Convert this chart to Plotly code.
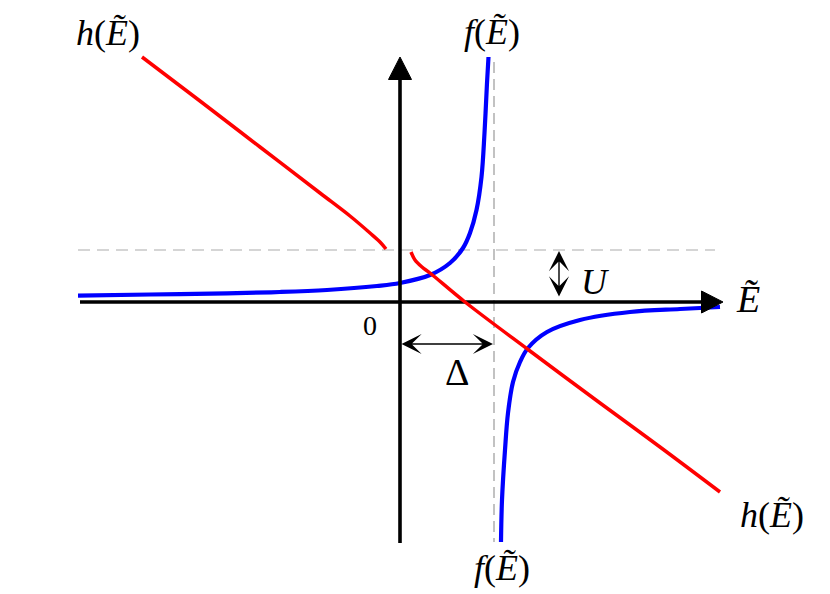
import plotly.graph_objects as go

# ── data (E-tilde units, origin at the axes crossing) ─────────────────────────
U = 0.52        # height of the dashed horizontal level
DELTA = 0.94    # position of the f(E) pole

# f(E): left branch (below the pole) and right branch
f_left_E = [-3.22, -2.5, -1.73, -1.2, -0.73, -0.23, 0.0, 0.30, 0.50, 0.63,
            0.70, 0.765, 0.815, 0.845, 0.87, 0.885]
f_left = [0.063, 0.075, 0.087, 0.10, 0.12, 0.16, 0.19, 0.27, 0.39, 0.54,
          0.69, 0.92, 1.25, 1.69, 2.19, 2.45]
f_right_E = [1.01, 1.02, 1.05, 1.08, 1.13, 1.20, 1.28, 1.47, 1.80, 2.30, 2.80, 3.20]
f_right = [-2.40, -1.98, -1.48, -1.11, -0.80, -0.60, -0.46, -0.30, -0.18, -0.10, -0.07, -0.05]

# h(E): two nearly straight pieces with a small gap around zero
h_left_E = [-2.58, -2.00, -1.40, -0.80, -0.50, -0.30, -0.20, -0.14]
h_left = [2.45, 2.01, 1.55, 1.09, 0.86, 0.69, 0.60, 0.53]
h_right_E = [0.11, 0.15, 0.22, 0.30, 0.65, 1.30, 2.00, 2.60, 3.20]
h_right = [0.50, 0.42, 0.35, 0.29, 0.00, -0.49, -1.01, -1.45, -1.90]

# ── plot ──────────────────────────────────────────────────────────────────────
fig = go.Figure()

def line(x, y, color, width, dash=None, shape='linear'):
    fig.add_trace(go.Scatter(
        x=x, y=y, mode='lines', line=dict(color=color, width=width, dash=dash, shape=shape),
        showlegend=False, hoverinfo='skip'))

def tri(x, y):
    fig.add_trace(go.Scatter(
        x=x, y=y, mode='lines', fill='toself', fillcolor='black',
        line=dict(color='black', width=1), showlegend=False, hoverinfo='skip'))

# dashed guides
line([-3.22, 3.15], [U, U], '#c8c8c8', 1.6, dash='12px,7px')
line([DELTA, DELTA], [2.40, -2.40], '#9a9a9a', 1.2, dash='11px,6px')

# f(E)
line(f_left_E, f_left, '#0000ff', 4.2, shape='spline')
line(f_right_E, f_right, '#0000ff', 4.2, shape='spline')

# axes with arrow heads
line([-3.20, 3.05], [0, 0], 'black', 3.6)
tri([3.015, 3.23, 3.015, 3.015], [0.11, 0, -0.11, 0.11])
line([0, 0], [-2.41, 2.26], 'black', 3.6)
tri([-0.115, 0, 0.115, -0.115], [2.225, 2.45, 2.225, 2.225])

# h(E)
line(h_left_E, h_left, '#ff0000', 3.5, shape='spline')
line(h_right_E, h_right, '#ff0000', 3.5, shape='spline')

serif = 'Liberation Serif'
lab = '<i>%s</i>(<i>Ẽ</i>)'

annotations = [
    dict(x=-2.92, y=2.69, text=lab % 'h', font=dict(size=36)),
    dict(x=0.92, y=2.70, text=lab % 'f', font=dict(size=36)),
    dict(x=1.02, y=-2.66, text=lab % 'f', font=dict(size=36)),
    dict(x=3.72, y=-2.13, text=lab % 'h', font=dict(size=36)),
    dict(x=3.48, y=0.03, text='<i>Ẽ</i>', font=dict(size=38)),
    dict(x=1.95, y=0.20, text='<i>U</i>', font=dict(size=36)),
    dict(x=-0.30, y=-0.23, text='0', font=dict(size=28)),
    dict(x=0.57, y=-0.70, text='Δ', font=dict(size=38)),
]
for a in annotations:
    a.update(xref='x', yref='y', showarrow=False, xanchor='center', yanchor='middle')
    a['font'].update(family=serif, color='black')

# double-headed arrows for Delta and U
for x0, y0, x1, y1 in [(0.0, -0.42, DELTA - 0.01, -0.42), (1.59, 0.04, 1.59, U - 0.01)]:
    annotations.append(dict(
        x=x1, y=y1, ax=x0, ay=y0, xref='x', yref='y', axref='x', ayref='y',
        text='', showarrow=True, arrowside='end+start',
        arrowhead=3, startarrowhead=3, arrowsize=2.4, startarrowsize=2.4,
        arrowwidth=1.4, arrowcolor='black'))

# the page body has an 8px margin, so the figure is shrunk and the ranges shifted
fig.update_layout(
    width=822, height=586,
    margin=dict(l=0, r=0, t=0, b=0),
    plot_bgcolor='white', paper_bgcolor='white',
    xaxis=dict(visible=False, range=[-3.92, 4.30], fixedrange=True),
    yaxis=dict(visible=False, range=[-2.92, 2.94], fixedrange=True),
    annotations=annotations,
)

fig.write_html('out.html')
